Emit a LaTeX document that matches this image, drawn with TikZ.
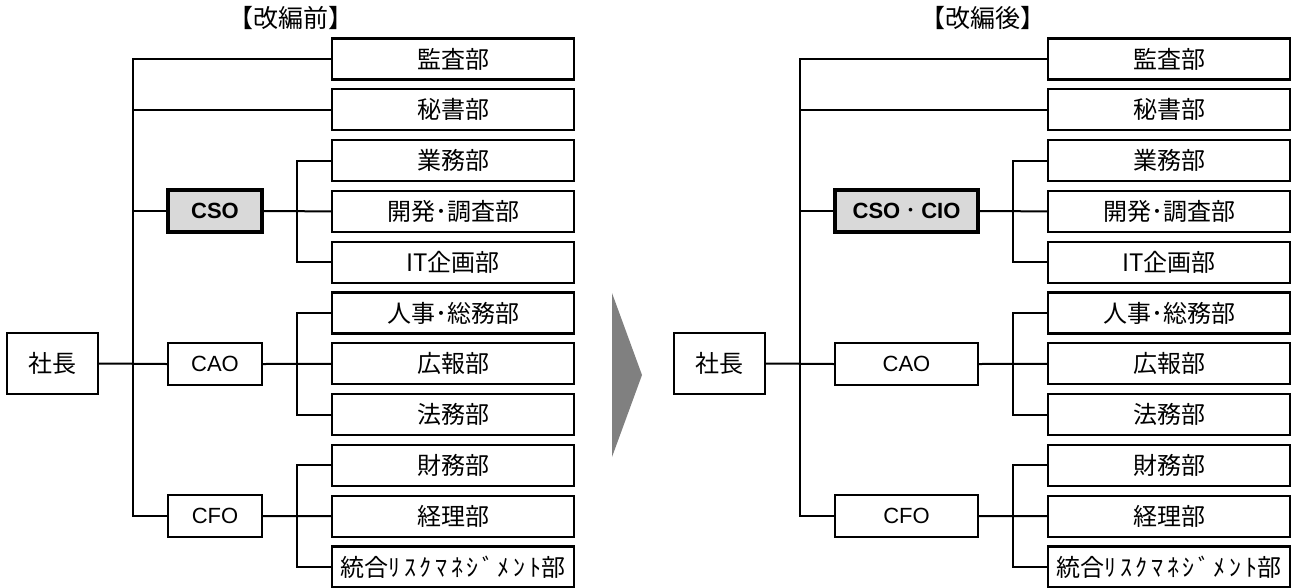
\documentclass[tikz,border=0pt]{standalone}
\usepackage{fontspec}
\setmainfont{Noto Sans CJK JP}
\newfontfamily\latinfont{Liberation Sans}
\tikzset{
  box/.style={draw, line width=2.2pt, inner sep=0pt, text height=19.8pt, text depth=1.7pt,
    font=\fontsize{24}{24}\selectfont},
  dept/.style={box, minimum width=242pt, minimum height=41pt},
  head/.style={box, minimum width=91pt, minimum height=61pt},
  mid/.style={box, minimum height=42pt, text height=15.8pt, text depth=0pt,
    font=\fontsize{22}{22}\selectfont\latinfont},
  hot/.style={mid, line width=3.4pt, fill=gray!30, font=\fontsize{22}{22}\selectfont\latinfont\bfseries},
  link/.style={line width=2pt},
  ttl/.style={font=\fontsize{25}{25}\selectfont}
}
\begin{document}
\begin{tikzpicture}[x=1pt,y=-1pt]
\useasboundingbox (0,0) rectangle (1292,587);
\node[ttl] (ta) at (291,18) {【改編前】};
\node[ttl] (tb) at (983,18) {【改編後】};
\foreach \t [count=\i] in {監査部,秘書部,業務部,開発･調査部,IT企画部,人事･総務部,広報部,法務部,財務部,経理部,
  {統合{\addfontfeature{LetterSpace=15}ﾘｽｸﾏﾈｼﾞﾒﾝﾄ}部}}{
  \node[dept] (a\i) at (453,{59+50.8*(\i-1)}) {\t};
  \node[dept] (b\i) at (1169,{59+50.8*(\i-1)}) {\t};
}
\node[head] (ap) at (52.5,363.5) {社長};
\node[hot, minimum width=94pt] (am1) at (215,211) {CSO};
\node[mid, minimum width=94pt] (am2) at (215,364) {CAO};
\node[mid, minimum width=94pt] (am3) at (215,516) {CFO};
\node[head] (bp) at (719.5,363.5) {社長};
\node[hot, minimum width=143pt] (bm1) at (906.5,211) {CSO\hspace{5pt}{\normalfont ･}\hspace{5pt}CIO};
\node[mid, minimum width=143pt] (bm2) at (906.5,364) {CAO};
\node[mid, minimum width=143pt] (bm3) at (906.5,516) {CFO};
\coordinate (atr) at (133,0);
\coordinate (ast) at (297,0);
\coordinate (btr) at (800,0);
\coordinate (bst) at (1013,0);
\foreach \c in {a,b}{
  \draw[link] (\c p.east) -- (\c m2.west);
  \draw[link] (\c 1.west) -| (\c tr |- \c m3.west) -- (\c m3.west);
  \draw[link] (\c 2.west) -- (\c 2.west -| \c tr);
  \draw[link] (\c m1.west) -- (\c m1.west -| \c tr);
  \foreach \k/\j/\n/\l in {1/3/4/5,2/6/7/8,3/9/10/11}{
    \draw[link] (\c\j.west) -| (\c st |- \c\l.west) -- (\c\l.west);
    \draw[link] (\c m\k.east) -- (\c\n.west);
  }
}
\fill[gray] (612,293) -- (642,375) -- (612,457) -- cycle;
\end{tikzpicture}
\end{document}
